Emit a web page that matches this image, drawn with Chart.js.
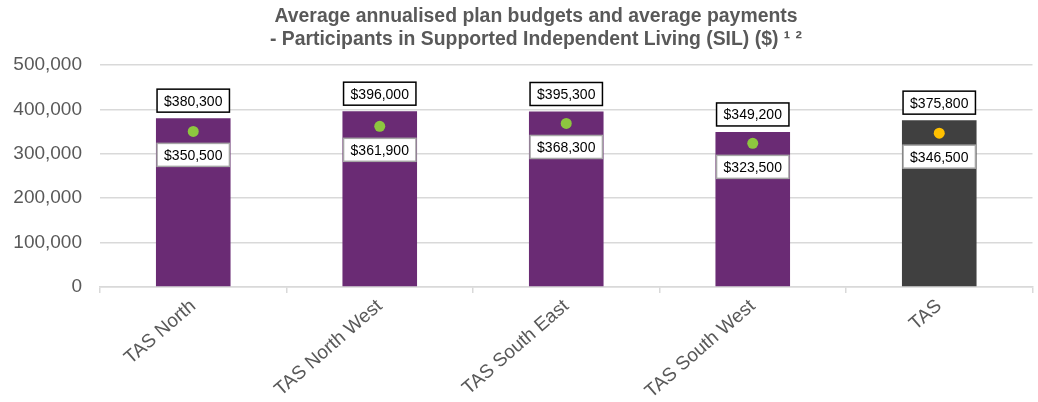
<!DOCTYPE html>
<html lang="en">
<head>
  <meta charset="UTF-8" />
  <title>SIL plan budgets and payments</title>
  <style>
    body { margin: 0; background: white; }
    #wrap { width: 1038px; height: 402px; }
  </style>
</head>
<body>
  <div id="wrap"><canvas id="chart"></canvas></div>

  <script src="https://cdn.jsdelivr.net/npm/chart.js"></script>
  <script>
    const regions = ['TAS North', 'TAS North West', 'TAS South East', 'TAS South West', 'TAS'];
    const budgets = [380300, 396000, 395300, 349200, 375800];
    const payments = [350500, 361900, 368300, 323500, 346500];
    const yTicks = [0, 100000, 200000, 300000, 400000, 500000];
    const titleLines = [
      'Average annualised plan budgets and average payments',
      '- Participants in Supported Independent Living (SIL) ($) \u00b9 \u00b2'
    ];

    const barColors = ['#6a2b74', '#6a2b74', '#6a2b74', '#6a2b74', '#404040'];
    const dotColors = ['#8dc63f', '#8dc63f', '#8dc63f', '#8dc63f', '#ffc000'];

    const FONT = '"Liberation Sans", Arial, sans-serif';
    const money = v => '$' + v.toLocaleString('en-US');

    // title is centred a bit right of the canvas middle, so draw it by hand
    const offTitle = {
      id: 'offTitle',
      beforeDraw(chart) {
        const c = chart.ctx;
        c.save();
        c.font = 'bold 19.4px ' + FONT;
        c.fillStyle = '#595959';
        c.textAlign = 'center';
        c.textBaseline = 'middle';
        titleLines.forEach((t, i) => c.fillText(t, 536, 17 + i * 23));
        c.restore();
      }
    };

    // boxed value labels above bars and below dots
    const boxLabels = {
      id: 'boxLabels',
      afterDatasetsDraw(chart) {
        const c = chart.ctx;
        c.save();
        c.font = '14px ' + FONT;
        c.textAlign = 'center';
        c.textBaseline = 'middle';
        const h = 23;

        chart.getDatasetMeta(0).data.forEach((bar, i) => {
          const txt = money(budgets[i]);
          const w = c.measureText(txt).width + 14;
          const bottom = bar.y - 6;
          c.fillStyle = 'white';
          c.fillRect(bar.x - w / 2, bottom - h, w, h);
          c.lineWidth = 1.5;
          c.strokeStyle = '#000';
          c.strokeRect(bar.x - w / 2, bottom - h, w, h);
          c.fillStyle = '#000';
          c.fillText(txt, bar.x, bottom - h / 2 + 1);
        });

        chart.getDatasetMeta(1).data.forEach((pt, i) => {
          const txt = money(payments[i]);
          const w = c.measureText(txt).width + 14;
          const top = pt.y + 12;
          c.fillStyle = 'white';
          c.fillRect(pt.x - w / 2, top, w, h);
          c.lineWidth = 1.5;
          c.strokeStyle = '#a6a6a6';
          c.strokeRect(pt.x - w / 2, top, w, h);
          c.fillStyle = '#000';
          c.fillText(txt, pt.x, top + h / 2 + 1);
        });
        c.restore();
      }
    };

    const ctx = document.getElementById('chart').getContext('2d');
    new Chart(ctx, {
      type: 'bar',
      data: {
        labels: regions,
        datasets: [
          {
            label: 'Average annualised plan budget',
            data: budgets,
            backgroundColor: barColors,
            barPercentage: 0.4,
            categoryPercentage: 1,
            order: 2
          },
          {
            type: 'line',
            label: 'Average payments',
            data: payments,
            showLine: false,
            pointRadius: 5.5,
            pointHoverRadius: 5.5,
            pointBackgroundColor: dotColors,
            pointBorderWidth: 0,
            order: 1
          }
        ]
      },
      options: {
        responsive: true,
        maintainAspectRatio: false,
        animation: false,
        layout: { padding: { left: 0, right: 3, top: 65, bottom: 0 } },
        plugins: {
          legend: { display: false },
          tooltip: { enabled: false },
          title: { display: false }
        },
        scales: {
          x: {
            afterFit: axis => { axis.height = 115; },
            grid: {
              offset: true,
              drawOnChartArea: false,
              color: '#d9d9d9',
              lineWidth: 1.5,
              tickLength: 6
            },
            border: { color: '#d9d9d9', width: 1.5 },
            ticks: {
              color: '#595959',
              font: { family: FONT, size: 19 },
              minRotation: 41,
              maxRotation: 41,
              padding: 2
            }
          },
          y: {
            min: 0,
            max: 500000,
            afterBuildTicks: axis => { axis.ticks = yTicks.map(v => ({ value: v })); },
            afterFit: axis => { axis.width = 100; },
            grid: { color: '#d9d9d9', lineWidth: 1.5, drawTicks: false },
            border: { display: false },
            ticks: {
              color: '#595959',
              font: { family: FONT, size: 19 },
              padding: 18,
              callback: v => v.toLocaleString('en-US')
            }
          }
        }
      },
      plugins: [offTitle, boxLabels]
    });
  </script>
</body>
</html>
